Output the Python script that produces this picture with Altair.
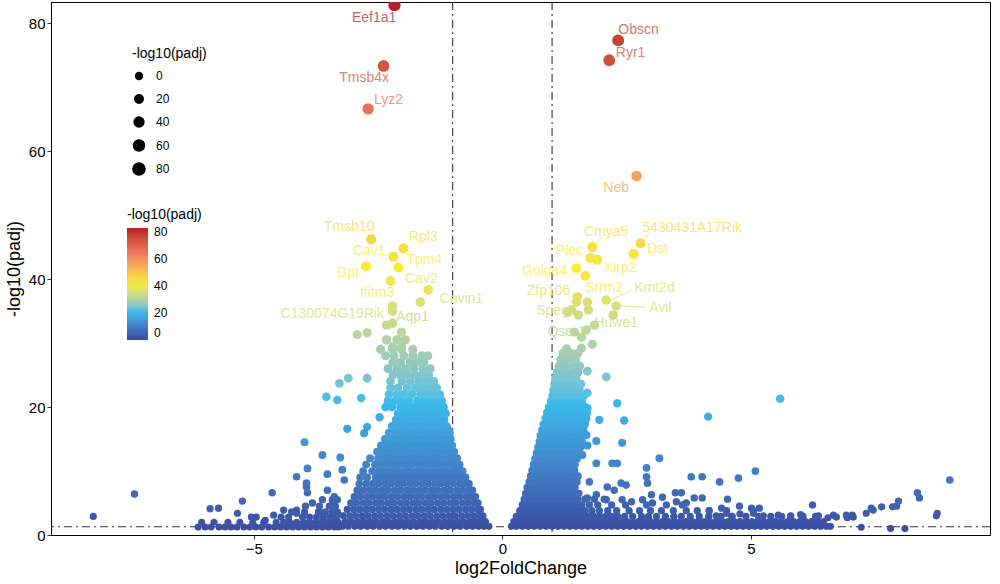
import altair as alt
import pandas as pd

# ---------------------------------------------------------------------------
# Differential expression results: log2FoldChange (x) and -log10(padj) (y)
# ---------------------------------------------------------------------------

# Dense body of the down-regulated genes, one row per -log10(padj) level
DOWN_ROWS = [
    (1.35, "-3.22 -3.10 -2.97 -2.85 -2.72 -2.60 -2.47 -2.35 -2.22 -2.10 -1.97 -1.85 -1.72 -1.60 -1.47 -1.35 -1.22 -1.10 -0.97 -0.85 -0.72 -0.60 -0.48 -0.37 -0.27"),
    (2.1, "-3.16 -3.04 -2.91 -2.79 -2.66 -2.54 -2.41 -2.29 -2.16 -2.04 -1.91 -1.79 -1.66 -1.54 -1.41 -1.29 -1.16 -1.04 -0.91 -0.79 -0.66 -0.55 -0.44 -0.34"),
    (3.0, "-3.20 -3.07 -2.95 -2.82 -2.70 -2.57 -2.45 -2.32 -2.20 -2.07 -1.95 -1.82 -1.70 -1.57 -1.45 -1.32 -1.20 -1.07 -0.95 -0.82 -0.70 -0.58 -0.46 -0.39"),
    (4.0, "-3.12 -2.99 -2.87 -2.74 -2.62 -2.49 -2.37 -2.24 -2.12 -1.99 -1.87 -1.74 -1.62 -1.49 -1.37 -1.24 -1.12 -0.99 -0.87 -0.74 -0.62 -0.50 -0.44"),
    (5.0, "-3.05 -2.93 -2.80 -2.68 -2.55 -2.43 -2.30 -2.18 -2.05 -1.93 -1.80 -1.68 -1.55 -1.43 -1.30 -1.18 -1.05 -0.93 -0.80 -0.68 -0.56 -0.49"),
    (6.0, "-2.98 -2.86 -2.73 -2.61 -2.48 -2.36 -2.23 -2.11 -1.98 -1.86 -1.73 -1.61 -1.48 -1.36 -1.23 -1.11 -0.98 -0.86 -0.73 -0.62 -0.54"),
    (7.0, "-2.92 -2.80 -2.67 -2.55 -2.42 -2.30 -2.17 -2.05 -1.92 -1.80 -1.67 -1.55 -1.42 -1.30 -1.17 -1.05 -0.92 -0.80 -0.68 -0.60"),
    (8.0, "-2.88 -2.74 -2.61 -2.49 -2.36 -2.24 -2.11 -1.99 -1.86 -1.74 -1.61 -1.49 -1.36 -1.24 -1.11 -0.99 -0.86 -0.76 -0.67"),
    (9.0, "-2.86 -2.72 -2.55 -2.43 -2.30 -2.18 -2.05 -1.93 -1.80 -1.68 -1.55 -1.43 -1.30 -1.18 -1.05 -0.93 -0.82 -0.74"),
    (10.0, "-2.80 -2.62 -2.49 -2.37 -2.24 -2.12 -1.99 -1.87 -1.74 -1.62 -1.49 -1.37 -1.24 -1.12 -0.99 -0.89 -0.80"),
    (11.0, "-2.74 -2.56 -2.43 -2.31 -2.18 -2.06 -1.93 -1.81 -1.68 -1.56 -1.43 -1.31 -1.18 -1.06 -0.95 -0.86"),
    (12.0, "-2.66 -2.50 -2.37 -2.25 -2.12 -2.00 -1.87 -1.75 -1.62 -1.50 -1.37 -1.25 -1.12 -1.01 -0.91"),
    (13.0, "-2.52 -2.40 -2.29 -2.17 -2.05 -1.93 -1.81 -1.69 -1.57 -1.45 -1.33 -1.21 -1.09 -0.97"),
    (14.0, "-2.44 -2.32 -2.20 -2.08 -1.96 -1.84 -1.72 -1.60 -1.48 -1.36 -1.24 -1.12 -1.01"),
    (15.0, "-2.36 -2.24 -2.12 -2.00 -1.88 -1.76 -1.64 -1.52 -1.40 -1.28 -1.16 -1.04"),
    (16.0, "-2.28 -2.15 -2.03 -1.91 -1.79 -1.67 -1.55 -1.43 -1.31 -1.19 -1.06"),
    (17.0, "-2.22 -2.09 -1.97 -1.85 -1.73 -1.61 -1.49 -1.37 -1.25 -1.12"),
    (18.0, "-2.14 -2.02 -1.90 -1.78 -1.66 -1.54 -1.42 -1.30 -1.17"),
    (19.0, "-2.10 -1.97 -1.85 -1.73 -1.61 -1.49 -1.37 -1.24 -1.14"),
    (20.0, "-2.35 -2.22 -2.05 -1.92 -1.79 -1.66 -1.53 -1.40 -1.27 -1.18"),
    (21.0, "-2.30 -2.15 -2.02 -1.88 -1.71 -1.58 -1.44 -1.30 -1.22"),
    (22.0, "-2.28 -2.12 -1.98 -1.82 -1.65 -1.50 -1.38 -1.26"),
    (23.0, "-2.25 -2.10 -1.92 -1.75 -1.60 -1.45 -1.32"),
    (24.0, "-2.25 -2.02 -1.85 -1.68 -1.52 -1.38"),
    (25.0, "-2.20 -2.05 -1.90 -1.75 -1.62 -1.48"),
    (26.0, "-2.30 -2.12 -1.95 -1.78 -1.60 -1.45"),
    (27.0, "-2.20 -2.05 -1.85 -1.72 -1.58"),
    (28.0, "-2.35 -2.18 -1.98 -1.80 -1.62 -1.50"),
    (29.0, "-2.45 -2.21 -2.03 -1.80"),
    (30.5, "-2.33 -2.12 -1.95"),
]

# Long thin tail of weak down-regulated genes
DOWN_TAIL_ROWS = [
    (1.25, "-6.12 -5.98 -5.86 -5.70 -5.58 -5.46 -5.34 -5.20 -5.08 -4.96 -4.84 -4.70 -4.58 -4.46 -4.34 -4.22 -4.10 -3.98 -3.86 -3.74 -3.62 -3.50 -3.38 -3.30"),
    (2.0, "-6.05 -5.80 -5.52 -5.28 -5.02 -4.80 -4.55 -4.40 -4.28 -4.14 -4.00 -3.88 -3.76 -3.64 -3.52 -3.40 -3.30"),
    (2.8, "-4.95 -4.45 -4.30 -4.02 -3.88 -3.74 -3.60 -3.46 -3.34"),
    (3.6, "-4.24 -3.98 -3.70 -3.56 -3.42 -3.32"),
    (4.5, "-3.96 -3.68 -3.48 -3.36"),
    (5.5, "-3.62 -3.42 -3.32"),
]

# Dense body of the up-regulated genes
UP_ROWS = [
    (1.35, "0.18 0.28 0.40 0.52 0.64 0.76 0.88 1.00 1.12 1.24 1.36 1.48 1.60 1.72 1.84 1.96 2.08 2.20 2.32 2.44 2.56 2.68 2.80 2.92 3.04 3.16 3.28 3.40 3.52 3.64 3.76 3.88 4.00 4.12 4.24 4.36 4.48 4.60 4.72 4.84 4.96 5.08 5.20 5.32 5.44 5.56 5.68 5.80 5.92 6.04 6.16 6.28 6.40 6.52 6.60"),
    (2.1, "0.23 0.34 0.46 0.58 0.70 0.82 0.94 1.06 1.18 1.30 1.42 1.54 1.66 1.78 1.90 2.02 2.14 2.26 2.38 2.50 2.62 2.74 2.86 2.98 3.10 3.22 3.34 3.46 3.58 3.70 3.82 3.94 4.06 4.18 4.30 4.42 4.54 4.66 4.78 4.90 5.02 5.14 5.26 5.38 5.50 5.62 5.74 5.86 5.98 6.10 6.22 6.34 6.46"),
    (2.9, "0.28 0.40 0.52 0.64 0.76 0.88 1.00 1.12 1.24 1.36 1.48 1.60 1.72 1.84 1.96 2.08 2.20 2.32 2.46 2.62 2.80 2.94 3.10 3.28 3.45 3.60 3.78 3.96 4.15 4.40 4.62 4.90 5.15 5.40 5.62 5.80 6.05 6.30"),
    (3.8, "0.35 0.46 0.58 0.70 0.82 0.94 1.06 1.18 1.30 1.42 1.54 1.66 1.80 1.95 2.12 2.30 2.55 2.76 2.98 3.20 3.44 3.70 3.92 4.16 4.51 5.05"),
    (4.7, "0.40 0.51 0.63 0.75 0.87 0.99 1.11 1.23 1.35 1.47 1.60 1.75 1.92 2.20 2.48 2.90 3.30 3.62"),
    (5.6, "0.44 0.55 0.67 0.79 0.91 1.03 1.15 1.27 1.39 1.51 1.66 1.85 2.05"),
    (6.5, "0.47 0.58 0.70 0.82 0.94 1.06 1.18 1.30 1.42 1.54"),
    (7.4, "0.50 0.62 0.74 0.86 0.98 1.10 1.22 1.34 1.46"),
    (8.3, "0.54 0.66 0.78 0.90 1.02 1.14 1.26 1.38 1.50"),
    (9.2, "0.57 0.69 0.81 0.93 1.05 1.17 1.29 1.41 1.52"),
    (10.1, "0.60 0.72 0.84 0.96 1.08 1.20 1.32 1.45"),
    (11.0, "0.63 0.75 0.87 0.99 1.11 1.23 1.35 1.46"),
    (11.9, "0.66 0.78 0.90 1.02 1.14 1.26 1.38 1.50"),
    (12.8, "0.69 0.81 0.93 1.05 1.17 1.29 1.41 1.53"),
    (13.7, "0.72 0.84 0.96 1.08 1.20 1.32 1.44 1.57"),
    (14.6, "0.75 0.87 0.99 1.11 1.23 1.35 1.47 1.60"),
    (15.5, "0.77 0.89 1.01 1.13 1.25 1.37 1.49 1.61"),
    (16.4, "0.80 0.92 1.04 1.16 1.28 1.40 1.52 1.63"),
    (17.3, "0.83 0.95 1.07 1.19 1.31 1.43 1.55 1.66"),
    (18.2, "0.87 0.99 1.11 1.23 1.35 1.47 1.59 1.69"),
    (19.1, "0.90 1.02 1.14 1.26 1.38 1.50 1.60 1.70"),
    (20.0, "0.94 1.06 1.18 1.30 1.42 1.54 1.66"),
    (20.9, "0.98 1.10 1.22 1.34 1.48 1.60"),
    (21.8, "1.01 1.13 1.25 1.38 1.52 1.64"),
    (22.7, "1.03 1.15 1.28 1.42 1.55"),
    (23.6, "1.05 1.18 1.31 1.45 1.58"),
    (24.5, "1.07 1.20 1.35 1.48"),
    (25.4, "1.10 1.24 1.40 1.52"),
    (26.4, "1.14 1.28 1.44 1.56"),
    (27.4, "1.18 1.32 1.47"),
    (28.4, "1.22 1.38 1.52"),
]

# Scattered genes away from the two dense bodies
SCATTER_FC = [
    -3.98, -3.62, -3.26, -3.92, -3.52, -4.14, -3.12, -3.54, -3.32, -3.28, -3.10, -2.72,
    -2.84, -2.47, -2.72, -2.78, -3.94, -3.92, -3.52, -3.22, -3.18, -3.82, -4.40, -4.14,
    -4.63, -5.23, -5.88, -5.71, -5.33, -5.05, -4.60, -4.77, -3.94, -4.14, -3.38, -3.44,
    -3.60, -3.30, -8.23, -7.40, -1.10, -1.10,
    -2.92, -2.72, -2.03, -2.33, -2.21, -2.33, -2.21, -2.03,
    1.29, 1.59, 1.81, 1.59, 1.69, 1.85, 1.53, 1.31, 1.73, 1.49, 1.71,
    1.71, 2.09, 1.71, 2.31, 1.71, 1.95, 2.45, 1.69, 1.89, 2.41, 1.71, 1.61, 1.89, 2.21,
    2.31, 3.16, 2.90, 2.90, 2.92, 1.75, 2.11, 2.39, 2.49, 3.80, 3.48, 3.60, 3.00,
    4.14, 5.59, 9.00, 4.02, 4.37, 4.75, 5.09, 4.53, 4.02, 4.41, 4.77, 5.01, 5.17, 6.24,
    4.16, 4.51, 4.78, 5.05, 8.35, 8.39, 7.97, 7.93, 7.85, 7.63, 7.42, 7.46, 7.32, 7.04,
    6.92, 7.06, 6.94, 6.66, 6.72, 8.75, 8.73, 7.22, 7.81, 8.10,
    4.30, 4.62, 5.25, 5.55, 5.80, 6.00, 6.36, 6.55,
    1.51, 1.71, 1.89, 2.09, 2.25, 2.41, 2.60, 2.82, 3.02, 3.22, 3.50, 3.70, 3.86,
]
SCATTER_NLP = [
    14.5, 12.5, 12.1, 10.4, 9.5, 9.1, 16.6, 21.6, 21.1, 23.7, 24.5, 24.5,
    21.4, 18.4, 16.9, 15.9, 7.5, 6.6, 7.0, 10.2, 8.6, 5.0, 3.9, 3.4,
    6.6, 5.3, 4.1, 4.2, 3.4, 2.8, 3.1, 2.3, 8.1, 3.9, 6.0, 4.6,
    3.5, 3.2, 2.9, 6.4, 16.6, 14.1,
    31.3, 31.6, 31.7, 32.8, 35.0, 30.5, 29.4, 29.4,
    29.1, 29.2, 29.8, 30.9, 32.0, 32.8, 34.4, 34.8, 35.2, 36.4, 36.4,
    25.6, 24.7, 22.2, 20.6, 19.8, 18.0, 17.9, 15.6, 14.7, 14.4, 14.0, 12.5, 11.2, 11.2,
    11.2, 12.0, 10.5, 9.1, 8.1, 8.3, 7.5, 8.1, 7.8, 9.1, 6.6, 6.6, 6.3,
    18.5, 21.3, 8.6, 9.1, 8.3, 8.9, 10.0, 5.6, 5.8, 4.2, 4.5, 4.2, 4.2, 4.7,
    3.8, 3.4, 3.3, 3.4, 6.6, 5.8, 5.3, 4.5, 4.4, 4.4, 4.2, 3.9, 3.4, 3.1,
    3.1, 2.8, 2.7, 3.1, 2.8, 3.4, 3.0, 1.2, 1.0, 1.0,
    3.0, 2.9, 3.0, 3.1, 3.0, 3.2, 3.0, 2.7,
    5.5, 5.8, 6.3, 5.5, 7.0, 5.5, 5.2, 5.5, 5.0, 5.9, 5.2, 5.0, 5.8,
]

# Labelled genes
GENE_NAMES = ["Eef1a1", "Tmsb4x", "Lyz2", "Obscn", "Ryr1", "Neb", "Tmsb10", "Rpl3",
              "Cav1", "Tpm4", "Dpt", "Cav2", "Ifitm3", "Cavin1", "C130074G19Rik", "Aqp1",
              "Cmya5", "5430431A17Rik", "Plec", "Dst", "Golga4", "Xirp2", "Zfp106",
              "Srrm2", "Kmt2d", "Avil", "Speg", "Huwe1", "Qser1"]
GENE_FC = [-2.17, -2.39, -2.70, 2.33, 2.15, 2.70, -2.64, -1.99,
           -2.19, -2.09, -2.74, -1.49, -2.25, -1.65, -2.21, -2.21,
           1.81, 2.78, 1.77, 2.64, 1.49, 1.91, 1.51,
           1.67, 2.09, 2.29, 1.39, 2.23, 1.45]
GENE_NLP = [82.8, 73.3, 66.6, 77.3, 74.2, 56.1, 46.2, 44.8,
            43.5, 41.8, 42.0, 38.3, 39.7, 36.4, 35.8, 33.1,
            45.0, 45.6, 43.3, 43.9, 41.7, 43.0, 37.2,
            40.5, 36.7, 35.8, 35.2, 34.4, 31.7]

# Where each gene name is placed (data units), as repelled text
LABEL_PLACE = {
    "Eef1a1": (-2.58, 80.8), "Tmsb4x": (-2.78, 71.4), "Lyz2": (-2.29, 68.0),
    "Obscn": (2.74, 78.9), "Ryr1": (2.58, 75.3), "Neb": (2.29, 54.2),
    "Tmsb10": (-3.08, 48.1), "Rpl3": (-1.59, 46.6), "Cav1": (-2.68, 44.4),
    "Tpm4": (-1.57, 43.0), "Dpt": (-3.10, 40.9), "Cav2": (-1.63, 40.0),
    "Ifitm3": (-2.52, 37.8), "Cavin1": (-0.82, 36.9), "C130074G19Rik": (-3.42, 34.5),
    "Aqp1": (-1.81, 34.1), "Cmya5": (2.09, 47.3), "5430431A17Rik": (3.82, 48.0),
    "Plec": (1.35, 44.4), "Dst": (3.12, 44.7), "Golga4": (0.85, 41.3),
    "Xirp2": (2.37, 41.7), "Zfp106": (0.93, 38.1), "Srrm2": (2.05, 38.6),
    "Kmt2d": (3.06, 38.6), "Avil": (3.18, 35.5), "Speg": (1.01, 35.0),
    "Huwe1": (2.29, 33.1), "Qser1": (1.29, 31.7),
}
# Leader segments for labels pushed away from their points
LEADER_FROM = [(2.60, 38.3), (2.90, 35.6), (2.96, 47.2), (2.03, 46.7)]
LEADER_TO = [(2.19, 36.7), (2.39, 35.8), (2.80, 45.8), (1.89, 45.6)]

FC_CUTOFF = [-1, 1]
PADJ_CUTOFF = [1.3]

PALETTE = ["#39489f", "#39bbec", "#f9ed36", "#f38466", "#b81f25"]
# same ramp washed towards white, for the gene names
PALETTE_TEXT = ["#707bba", "#70cee7", "#fbf26e", "#f6a691", "#cc5e62"]
COLOR_DOMAIN = [0, 20.75, 41.5, 62.25, 83]
FONT = "Liberation Sans"

# ---------------------------------------------------------------------------
# Assemble tables
# ---------------------------------------------------------------------------
fc_vals, nlp_vals = [], []
for level, row in DOWN_ROWS + DOWN_TAIL_ROWS + UP_ROWS:
    for v in row.split():
        fc_vals.append(float(v))
        nlp_vals.append(level)
fc_vals += SCATTER_FC + GENE_FC
nlp_vals += SCATTER_NLP + GENE_NLP
points = pd.DataFrame({"fc": fc_vals, "nlp": nlp_vals}).sort_values("nlp")

labels = pd.DataFrame({
    "gene": GENE_NAMES,
    "nlp_gene": GENE_NLP,
    "fc": [LABEL_PLACE[g][0] for g in GENE_NAMES],
    "nlp": [LABEL_PLACE[g][1] for g in GENE_NAMES],
})
leaders = pd.DataFrame({
    "fc": [a[0] for a in LEADER_FROM], "nlp": [a[1] for a in LEADER_FROM],
    "fc2": [b[0] for b in LEADER_TO], "nlp2": [b[1] for b in LEADER_TO],
})

x_scale = alt.Scale(domain=[-9.08, 9.81], nice=False, zero=False)
y_scale = alt.Scale(domain=[0, 83.3], nice=False, zero=False)

x_enc = alt.X("fc:Q", scale=x_scale,
              axis=alt.Axis(values=[-5, 0, 5], title="log2FoldChange", grid=False))
y_enc = alt.Y("nlp:Q", scale=y_scale,
              axis=alt.Axis(values=[0, 20, 40, 60, 80], title="-log10(padj)", grid=False))

dash = [8, 4, 2, 4]
vlines = alt.Chart(pd.DataFrame({"fc": FC_CUTOFF})).mark_rule(
    color="#333333", strokeWidth=1.1, strokeDash=dash
).encode(x=alt.X("fc:Q", scale=x_scale))
hline = alt.Chart(pd.DataFrame({"nlp": PADJ_CUTOFF})).mark_rule(
    color="#333333", strokeWidth=1.1, strokeDash=dash
).encode(y=alt.Y("nlp:Q", scale=y_scale))

text = alt.Chart(labels).mark_text(font=FONT, fontSize=14).encode(
    x=alt.X("fc:Q", scale=x_scale),
    y=alt.Y("nlp:Q", scale=y_scale),
    text="gene:N",
    color=alt.Color("nlp_gene:Q",
                    scale=alt.Scale(domain=COLOR_DOMAIN, range=PALETTE_TEXT, interpolate="lab"),
                    legend=None),
)

segs = alt.Chart(leaders).mark_rule(strokeWidth=1, color="#e6dc6e", opacity=0.8).encode(
    x=alt.X("fc:Q", scale=x_scale),
    y=alt.Y("nlp:Q", scale=y_scale),
    x2="fc2:Q",
    y2="nlp2:Q",
)

dots = alt.Chart(points).mark_circle(opacity=1, clip=True).encode(
    x=x_enc,
    y=y_enc,
    color=alt.Color(
        "nlp:Q",
        scale=alt.Scale(domain=COLOR_DOMAIN, range=PALETTE, interpolate="lab"),
        legend=alt.Legend(
            type="gradient",
            title="-log10(padj)", orient="none", legendX=76, legendY=206,
            values=[0, 20, 40, 60, 80], gradientLength=112, gradientThickness=21,
            direction="vertical", titlePadding=6, labelOffset=6,
        ),
    ),
    size=alt.Size(
        "nlp:Q", scale=alt.Scale(domain=[0, 83.5], range=[48, 150]),
        legend=alt.Legend(
            title="-log10(padj)", orient="none", legendX=81, legendY=45,
            values=[0, 20, 40, 60, 80], symbolFillColor="black",
            symbolStrokeColor="black", symbolOpacity=1, rowPadding=3,
            gridAlign="all", titlePadding=9, labelOffset=10,
        ),
    ),
)

chart = alt.layer(vlines, hline, text, segs, dots).resolve_scale(
    color="independent"
).properties(
    width=939, height=533,
    autosize=alt.AutoSizeParams(type="none"),
    padding={"left": 51, "top": 2, "right": 10, "bottom": 49},
).configure_view(
    stroke="black", strokeWidth=1
).configure_axis(
    domainColor="black", domainWidth=1, tickColor="#333333", tickSize=4,
    labelFont=FONT, labelFontSize=15, labelColor="black",
    titleFont=FONT, titleFontSize=18, titleFontWeight="normal", titleColor="black",
).configure_axisX(
    labelPadding=2, titlePadding=3,
).configure_axisY(
    labelPadding=2, titlePadding=5,
).configure_legend(
    titleFont=FONT, titleFontSize=14, titleFontWeight="normal", titleColor="black",
    labelFont=FONT, labelFontSize=12, labelColor="black", padding=0,
    symbolBaseFillColor="black", symbolBaseStrokeColor="black",
)

chart.save("out.html", embed_options={"renderer": "svg", "actions": False})
